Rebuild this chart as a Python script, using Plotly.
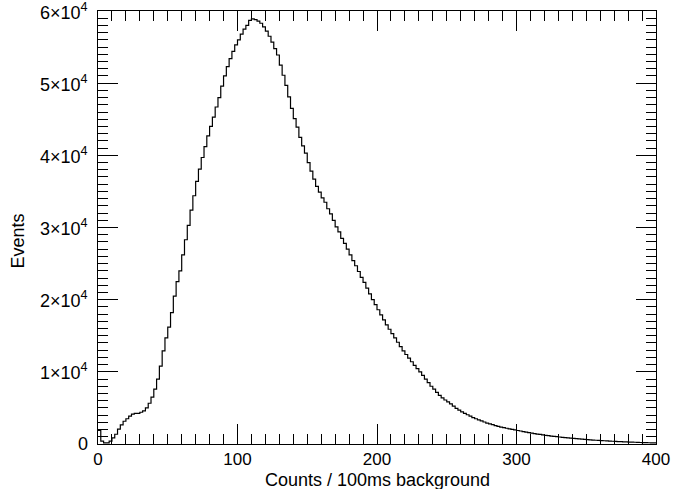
import numpy as np
import plotly.graph_objects as go

# Histogram: counts per 100 ms background, bin width 2
bin_width = 2
counts = [
    1900, 400, 150, 150, 400, 850, 1350, 2050, 2650, 3150,
    3500, 3850, 4150, 4250, 4250, 4400, 4600, 5000, 5650, 6500,
    7600, 9000, 10800, 12900, 14700, 16200, 18200, 20500, 22500, 24000,
    26200, 28300, 30300, 32400, 34400, 36400, 38100, 39700, 41200, 42700,
    44000, 45300, 46700, 48000, 49600, 51000, 52300, 53400, 54400, 55300,
    56000, 56800, 57500, 58000, 58700, 58900, 58800, 58600, 58300, 57800,
    57200, 56500, 55700, 54800, 53900, 52500, 51100, 49700, 48100, 46500,
    45100, 43900, 42500, 41300, 40300, 39000, 37800, 36700, 35700, 34900,
    34100, 33500, 32600, 31900, 31000, 30100, 29400, 28500, 27800, 27000,
    26200, 25400, 24700, 23900, 23100, 22400, 21600, 20800, 20000, 19300,
    18600, 17900, 17200, 16500, 15900, 15300, 14700, 14100, 13500, 12900,
    12400, 11900, 11400, 10900, 10450, 10000, 9500, 9000, 8500, 8000,
    7600, 7150, 6750, 6400, 6100, 5850, 5550, 5250, 4950, 4700,
    4450, 4250, 4050, 3850, 3650, 3500, 3350, 3200, 3050, 2900,
    2800, 2680, 2560, 2450, 2350, 2270, 2180, 2100, 2020, 1950,
    1870, 1800, 1720, 1650, 1580, 1510, 1440, 1380, 1320, 1260,
    1200, 1150, 1100, 1060, 1020, 970, 930, 890, 850, 810,
    770, 740, 700, 670, 640, 610, 580, 550, 520, 500,
    470, 450, 420, 400, 380, 360, 340, 320, 300, 290,
    270, 250, 240, 220, 210, 200, 190, 170, 160, 150,
]

x_ticks = [0, 100, 200, 300, 400]
x_ticktext = ["0", "100", "200", "300", "400"]
y_ticks = [0, 10000, 20000, 30000, 40000, 50000, 60000]
y_ticktext = ["0"] + [f"{k}\u00d710<sup>4</sup>" for k in range(1, 7)]

x_title = "Counts / 100ms background"
y_title = "Events"

edges = np.arange(len(counts) + 1) * bin_width
xs = list(edges)
ys = list(counts) + [counts[-1]]

FONT = "Liberation Sans, Arial, Helvetica, sans-serif"
FS = 18
FS_TICK = 17

fig = go.Figure()
fig.add_trace(go.Scatter(
    x=xs, y=ys, mode="lines", line=dict(shape="hv", color="black", width=1.2),
    showlegend=False, hoverinfo="skip",
))

axis_common = dict(
    showgrid=False, zeroline=False, showline=True, linecolor="black", linewidth=1,
    mirror="ticks", ticks="inside", ticklen=20, tickwidth=1, tickcolor="black",
)

fig.update_xaxes(
    range=[0, 400], tickvals=x_ticks, ticktext=x_ticktext,
    tickfont=dict(family=FONT, size=FS_TICK, color="black"),
    minor=dict(dtick=10, ticklen=10, tickwidth=1, tickcolor="black", ticks="inside"),
    **axis_common,
)
fig.update_yaxes(
    range=[0, 60000], tickvals=y_ticks, showticklabels=False,
    minor=dict(dtick=1000, ticklen=10, tickwidth=1, tickcolor="black", ticks="inside"),
    **axis_common,
)

annotations = []
for v, t in zip(y_ticks, y_ticktext):
    annotations.append(dict(
        x=0, xref="paper", y=v, yref="y", text=t, showarrow=False,
        xanchor="right", yanchor="middle", xshift=-8,
        font=dict(family=FONT, size=FS, color="black"),
    ))
annotations.append(dict(
    x=0.5, xref="paper", y=-0.083, yref="paper", text=x_title, showarrow=False,
    xanchor="center", yanchor="middle",
    font=dict(family=FONT, size=FS, color="black"),
))
annotations.append(dict(
    x=-0.1416, xref="paper", y=0.47, yref="paper", text=y_title, showarrow=False,
    xanchor="center", yanchor="middle", textangle=-90,
    font=dict(family=FONT, size=FS, color="black"),
))

fig.update_layout(
    width=680, height=489,
    margin=dict(l=98, r=17, t=10, b=45),
    paper_bgcolor="white", plot_bgcolor="white",
    font=dict(family=FONT, color="black"),
    annotations=annotations,
)

fig.write_html("out.html")
